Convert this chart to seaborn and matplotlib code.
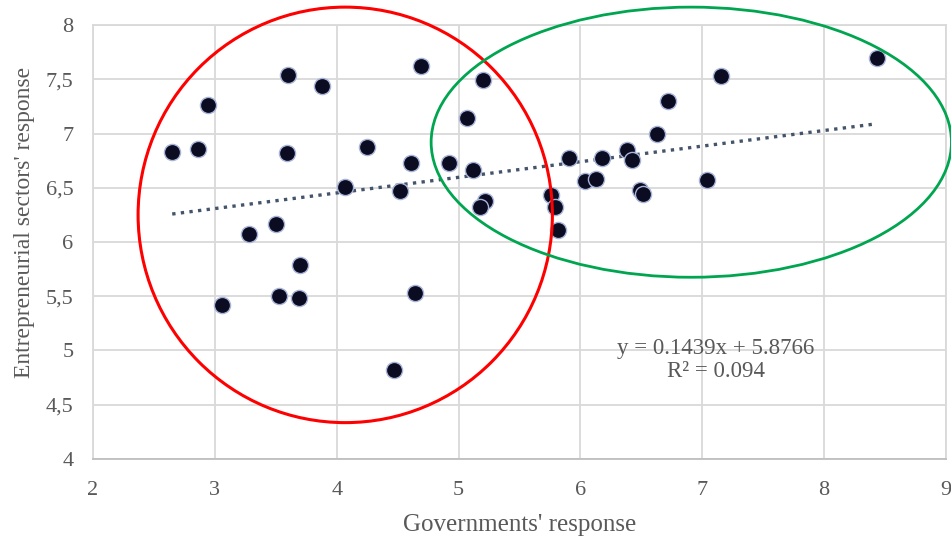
import numpy as np
import pandas as pd
import matplotlib
matplotlib.use("Agg")
import matplotlib.pyplot as plt
from matplotlib.patches import Ellipse
from matplotlib.ticker import FuncFormatter
import seaborn as sns

# Governments' response (x) and entrepreneurial sectors' response (y) per country
gov_response = [
    2.65, 2.86, 2.94, 3.60, 3.88, 3.59, 4.25, 4.69, 4.61, 4.07, 4.52,
    4.92, 5.12, 5.07, 3.28, 3.50, 3.70, 3.06, 3.53, 3.69, 4.64, 4.47,
    8.43, 7.15, 6.72, 6.63, 5.20, 5.22, 5.18, 5.91, 6.18, 6.38, 6.42,
    6.04, 6.13, 6.49, 6.51, 7.04, 5.76, 5.79, 5.82,
]
ent_response = [
    6.83, 6.86, 7.26, 7.54, 7.44, 6.82, 6.88, 7.62, 6.73, 6.51, 6.47,
    6.73, 6.66, 7.14, 6.07, 6.17, 5.79, 5.42, 5.50, 5.48, 5.53, 4.82,
    7.70, 7.53, 7.30, 7.00, 7.49, 6.38, 6.32, 6.77, 6.77, 6.85, 6.76,
    6.56, 6.58, 6.48, 6.44, 6.57, 6.43, 6.32, 6.11,
]

# Linear trend reported on the chart
slope = 0.1439
intercept = 5.8766
r_squared = 0.094

x_ticks = [2, 3, 4, 5, 6, 7, 8, 9]
y_ticks = [4, 4.5, 5, 5.5, 6, 6.5, 7, 7.5, 8]

df = pd.DataFrame({"gov": gov_response, "ent": ent_response})

sns.set_theme(style="whitegrid")
plt.rcParams["font.family"] = ["Liberation Serif", "DejaVu Serif"]

fig = plt.figure(figsize=(9.51, 5.37), dpi=100)
ax = fig.add_axes([0.0978, 0.1453, 0.8969, 0.8081])
ax.set_facecolor("white")

text_color = "#595959"
grid_color = "#d9d9d9"

# Trend line across the observed range of x
xs = np.array([min(gov_response), max(gov_response)])
ax.plot(xs, slope * xs + intercept, linestyle=(0, (1, 1.6)), color="#44546a",
        linewidth=2.4, zorder=2)

sns.scatterplot(data=df, x="gov", y="ent", ax=ax, s=135, color="#0b0b22",
                edgecolor="#a8b4d8", linewidth=1.0, zorder=3)

# Highlighted country groups
ax.add_patch(Ellipse((4.07, 6.25), 3.40, 3.83, fill=False, edgecolor="#ff0000",
                     linewidth=2.2, clip_on=False, zorder=4))
ax.add_patch(Ellipse((6.91, 6.92), 4.27, 2.49, fill=False, edgecolor="#00a550",
                     linewidth=2.0, clip_on=False, zorder=4))

ax.text(7.11, 4.91, f"y = {slope}x + {intercept}\nR² = {r_squared}",
        ha="center", va="center", fontsize=16.5, color=text_color,
        linespacing=1.1, zorder=5)

ax.set_xlim(2, 9)
ax.set_ylim(4, 8)
ax.set_xticks(x_ticks)
ax.set_yticks(y_ticks)
ax.yaxis.set_major_formatter(FuncFormatter(lambda v, _: f"{v:g}".replace(".", ",")))
ax.tick_params(axis="both", length=0, labelsize=16, labelcolor=text_color)
ax.tick_params(axis="x", pad=16)
ax.tick_params(axis="y", pad=14)

ax.grid(True, color=grid_color, linewidth=1.3)
for side, spine in ax.spines.items():
    spine.set_color(grid_color)
    spine.set_linewidth(1.3)
ax.spines["bottom"].set_color("#bfbfbf")

ax.set_xlabel("Governments' response", fontsize=18, color=text_color, labelpad=10)
ax.set_ylabel("Entrepreneurial sectors' response", fontsize=17, color=text_color,
              labelpad=8)
ax.yaxis.set_label_coords(-0.068, 0.545)

fig.savefig("out.png", dpi=100, facecolor="white")
